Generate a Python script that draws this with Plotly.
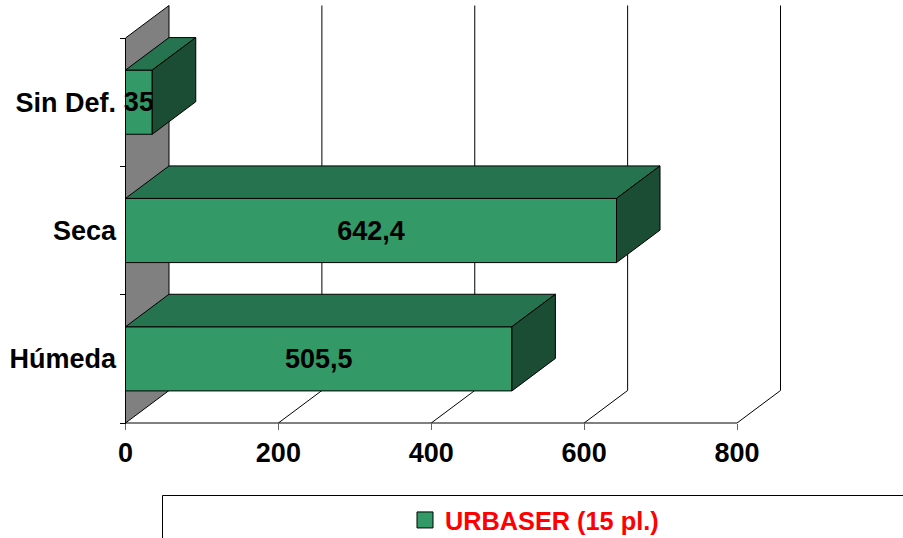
import plotly.graph_objects as go

categories = ["Húmeda", "Seca", "Sin Def."]
values = [505.5, 642.4, 35]
x_ticks = [0, 200, 400, 600, 800]
series_name = "URBASER (15 pl.)"

# The page is a few pixels taller than the window so the legend can sit
# near the lower edge without plotly shrinking the plot area.
W, H = 903, 544
X0_PX, X800_PX = 125.5, 737.0
Y0_PX, Y3_PX = 423.0, 38.0
DEPTH_X_PX, DEPTH_Y_PX = 43.5, 32.5

px_x = (X800_PX - X0_PX) / 800
px_y = (Y0_PX - Y3_PX) / 3
DX = DEPTH_X_PX / px_x
DY = DEPTH_Y_PX / px_y
BAR_W = 0.5

FRONT, TOP, SIDE, WALL = "#339966", "#267350", "#1A4D33", "#808080"
FONT = "Liberation Sans"
centers = [i + 0.5 for i in range(len(categories))]
labels = [f"{v:g}".replace(".", ",") for v in values]

fig = go.Figure()

# Front faces: real bars
fig.add_trace(go.Bar(
    y=centers, x=values, orientation="h", width=BAR_W, base=0,
    marker=dict(color=FRONT, line=dict(color="black", width=1)),
    text=labels, textposition="inside", insidetextanchor="middle",
    textangle=0, constraintext="none", cliponaxis=False,
    insidetextfont=dict(family=FONT, size=27, color="black", weight="bold"),
    showlegend=False, hoverinfo="x+y",
))

# Top and end faces of every bar
for c, v in zip(centers, values):
    lo, hi = c - BAR_W / 2, c + BAR_W / 2
    fig.add_trace(go.Scatter(
        x=[0, v, v + DX, DX, 0], y=[hi, hi, hi + DY, hi + DY, hi],
        mode="lines", fill="toself", fillcolor=TOP,
        line=dict(color="black", width=1), showlegend=False, hoverinfo="skip"))
    fig.add_trace(go.Scatter(
        x=[v, v + DX, v + DX, v, v], y=[hi, hi + DY, lo + DY, lo, hi],
        mode="lines", fill="toself", fillcolor=SIDE,
        line=dict(color="black", width=1), showlegend=False, hoverinfo="skip"))

# Legend entry
fig.add_trace(go.Scatter(
    x=[None], y=[None], mode="markers", name=series_name,
    marker=dict(symbol="square", size=16, color=FRONT, line=dict(color="black", width=1)),
    showlegend=True))

shapes = []
n = len(categories)
# Back wall (category side)
shapes.append(dict(type="path", layer="below", fillcolor=WALL, line=dict(color="black", width=1),
                   path=f"M0,0 L{DX},{DY} L{DX},{n + DY} L0,{n} Z"))
# Gridlines on floor and back
for t in x_ticks[1:]:
    shapes.append(dict(type="line", layer="below", x0=t, y0=0, x1=t + DX, y1=DY,
                       line=dict(color="black", width=1)))
    shapes.append(dict(type="line", layer="below", x0=t + DX, y0=DY, x1=t + DX, y1=n + DY,
                       line=dict(color="black", width=1)))
# Front floor edge
shapes.append(dict(type="line", layer="below", x0=0, y0=0, x1=x_ticks[-1], y1=0,
                   line=dict(color="black", width=1)))
# Legend frame, running off the page
shapes.append(dict(type="line", xref="paper", yref="paper", x0=162.5 / W, x1=1,
                   y0=1 - 495.5 / H, y1=1 - 495.5 / H, line=dict(color="black", width=1)))
shapes.append(dict(type="line", xref="paper", yref="paper", x0=162.5 / W, x1=162.5 / W,
                   y0=0, y1=1 - 495.5 / H, line=dict(color="black", width=1)))

fig.update_layout(
    width=W, height=H, autosize=False,
    margin=dict(l=0, r=0, t=0, b=0),
    paper_bgcolor="white", plot_bgcolor="white",
    barmode="overlay", shapes=shapes, hovermode="closest",
    xaxis=dict(
        range=[-X0_PX / px_x, (W - X0_PX) / px_x], domain=[0, 1],
        anchor="free", position=(H - Y0_PX) / H,
        tickmode="array", tickvals=x_ticks, ticktext=[str(t) for t in x_ticks],
        showgrid=False, zeroline=False, showline=False,
        ticks="outside", ticklen=6, tickcolor="#666666",
        tickfont=dict(family=FONT, size=27, color="black", weight="bold"),
    ),
    yaxis=dict(
        range=[-(H - Y0_PX) / px_y, Y0_PX / px_y], domain=[0, 1],
        anchor="free", position=X0_PX / W,
        tickmode="array", tickvals=centers, ticktext=categories,
        showgrid=False, zeroline=False, showline=False,
        ticks="outside", ticklen=4, tickcolor="rgba(0,0,0,0)",
        tickfont=dict(family=FONT, size=27, color="black", weight="bold"),
        minor=dict(tickmode="array", tickvals=list(range(n + 1)), ticks="outside",
                   ticklen=6, tickcolor="black", tickwidth=1, showgrid=False),
    ),
    legend=dict(
        x=405 / W, xanchor="left", y=1 - 520 / H, yanchor="middle",
        bgcolor="rgba(0,0,0,0)", borderwidth=0,
        font=dict(family=FONT, size=25.3, color="#FF0000", weight="bold"),
    ),
)

fig.write_html("out.html", config={"displayModeBar": False},
               post_script="document.body.style.margin='0';document.body.style.overflow='hidden';")
